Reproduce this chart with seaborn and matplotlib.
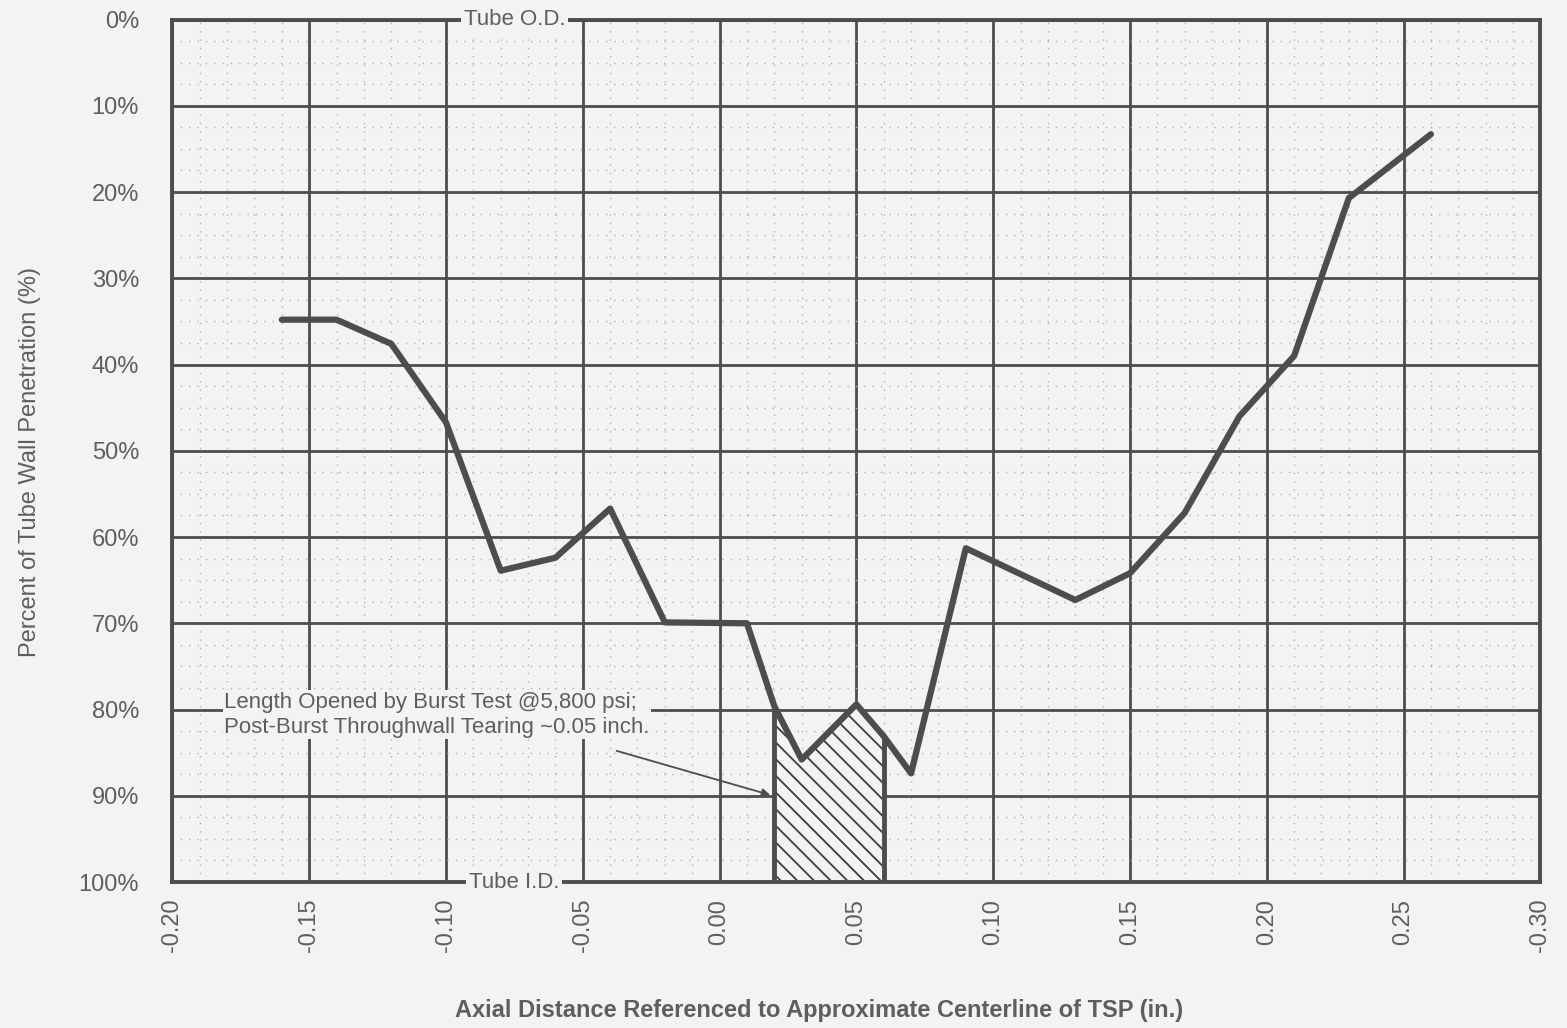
import numpy as np
import pandas as pd
import matplotlib
matplotlib.use("Agg")
import matplotlib.pyplot as plt
from matplotlib.ticker import FixedLocator, MultipleLocator
import seaborn as sns

# axial position (in.) and wall penetration (%)
axial_in = [-0.16, -0.14, -0.12, -0.10, -0.08, -0.06, -0.04, -0.02, 0.01, 0.02, 0.03,
            0.05, 0.06, 0.07, 0.09, 0.13, 0.15, 0.17, 0.19, 0.21, 0.23, 0.26]
penetration = [34.8, 34.8, 37.6, 46.7, 63.9, 62.4, 56.7, 69.9, 70.0, 79.6, 85.8,
               79.4, 83.1, 87.4, 61.3, 67.3, 64.2, 57.2, 46.0, 39.0, 20.7, 13.3]

# burst opening region
burst_x = [0.02, 0.03, 0.05, 0.06]
burst_y = [79.6, 85.8, 79.4, 83.1]

x_ticks = [-0.20, -0.15, -0.10, -0.05, 0.00, 0.05, 0.10, 0.15, 0.20, 0.25, 0.30]
x_ticklabels = ["-0.20", "-0.15", "-0.10", "-0.05", "0.00", "0.05", "0.10",
                "0.15", "0.20", "0.25", "-0.30"]
y_ticks = [0, 10, 20, 30, 40, 50, 60, 70, 80, 90, 100]
y_ticklabels = ["0%", "10%", "20%", "30%", "40%", "50%", "60%", "70%", "80%", "90%", "100%"]

bg = "#f3f3f1"
ink = "#4d4d4d"
txt = "#5e5e5e"

sns.set_theme(style="white")
plt.rcParams["font.family"] = ["Liberation Sans", "DejaVu Sans"]
plt.rcParams["hatch.linewidth"] = 1.3
plt.rcParams["hatch.color"] = "#3c3c3c"

df = pd.DataFrame({"x": axial_in, "y": penetration})

fig = plt.figure(figsize=(15.67, 10.28), dpi=100, facecolor=bg)
ax = fig.add_axes([0.110, 0.142, 0.873, 0.839])
ax.set_facecolor(bg)

ax.set_xlim(-0.20, 0.30)
ax.set_ylim(100, 0)

# grid
ax.xaxis.set_major_locator(FixedLocator(x_ticks))
ax.xaxis.set_minor_locator(MultipleLocator(0.01))
ax.yaxis.set_major_locator(FixedLocator(y_ticks))
ax.yaxis.set_minor_locator(MultipleLocator(2.5))
ax.grid(which="major", color=ink, linewidth=2.0, zorder=1)
ax.grid(which="minor", color="#b0b0b0", linewidth=1.0, linestyle=(0, (1, 5)), zorder=0)
ax.set_axisbelow(True)

# hatched burst region
ax.fill_between(burst_x, burst_y, 100, facecolor=bg, hatch="\\\\", edgecolor="#3c3c3c",
                linewidth=0, zorder=2)
ax.vlines([burst_x[0], burst_x[-1]], [burst_y[0], burst_y[-1]], 100, color=ink,
          linewidth=3.5, zorder=3)

sns.lineplot(data=df, x="x", y="y", sort=False, color=ink, linewidth=4.5,
             ax=ax, zorder=4)

for side in ax.spines.values():
    side.set_color(ink)
    side.set_linewidth(2.8)

ax.set_xticklabels(x_ticklabels, rotation=90, fontsize=17, color=txt)
ax.set_yticklabels(y_ticklabels, fontsize=17, color=txt)
ax.tick_params(axis="x", which="major", direction="out", length=8, width=2, color=ink, pad=4)
ax.tick_params(axis="y", which="major", direction="out", length=8, width=2, color=ink, pad=16)
ax.tick_params(which="minor", length=0)

ax.set_xlabel("Axial Distance Referenced to Approximate Centerline of TSP (in.)",
              fontsize=17, fontweight="bold", color=txt)
ax.set_ylabel("Percent of Tube Wall Penetration (%)", fontsize=17, color=txt)
ax.xaxis.set_label_coords(0.473, -0.136)
ax.yaxis.set_label_coords(-0.096, 0.487)

# wall labels on the top and bottom edges
for yy, lab in [(0, "Tube O.D."), (100, "Tube I.D.")]:
    ax.text(-0.075, yy, lab, ha="center", va="center", fontsize=16, color=txt,
            bbox=dict(facecolor=bg, edgecolor="none", pad=2), zorder=6, clip_on=False)

ax.text(-0.181, 80.6, "Length Opened by Burst Test @5,800 psi;\nPost-Burst Throughwall Tearing ~0.05 inch.",
        ha="left", va="center", fontsize=16, color=txt, linespacing=1.25,
        bbox=dict(facecolor=bg, edgecolor="none", pad=1), zorder=5)
ax.annotate("", xy=(0.0195, 90), xytext=(-0.0386, 84.7),
            arrowprops=dict(arrowstyle="-|>", color=ink, lw=1.3, mutation_scale=12),
            zorder=5)

fig.savefig("out.png", dpi=100, facecolor=bg)
